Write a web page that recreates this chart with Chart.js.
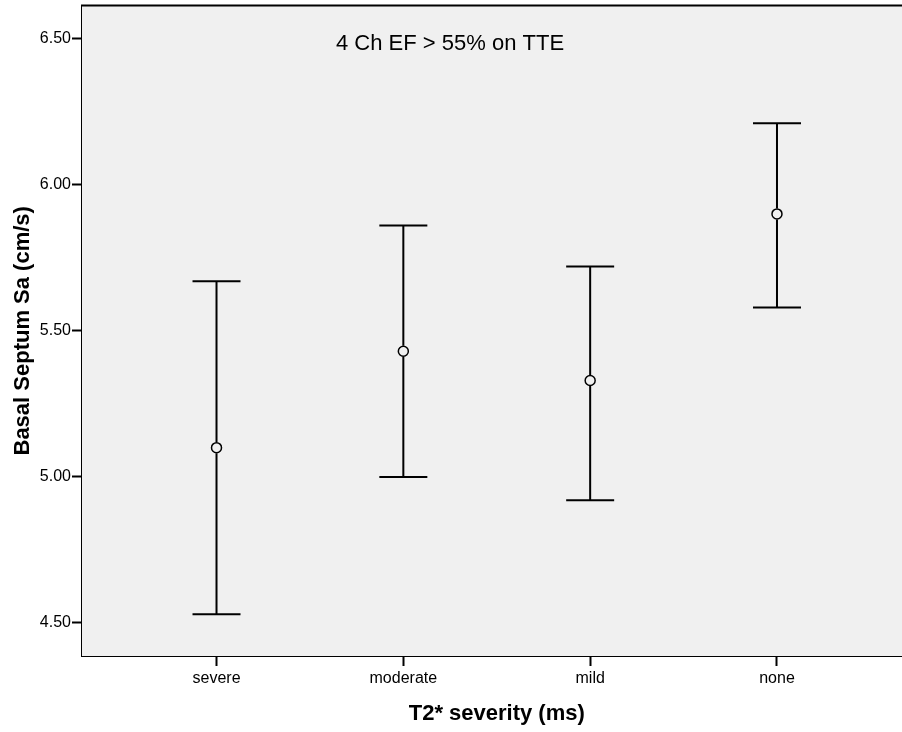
<!DOCTYPE html>
<html>
<head>
<meta charset="utf-8">
<script src="https://cdn.jsdelivr.net/npm/chart.js@4"></script>
<style>
  html, body { margin: 0; padding: 0; background: #ffffff; }
  #wrap { width: 902px; height: 732px; overflow: hidden; position: relative; }
  canvas { display: block; margin-top: -5px; }
</style>
</head>
<body>
<div id="wrap"><canvas id="c" width="918" height="737"></canvas></div>
<script>
// T2* severity groups and basal septum Sa means with 95% CI
const categories = ['severe', 'moderate', 'mild', 'none'];
const means = [5.10, 5.43, 5.33, 5.90];
const lowerCI = [4.53, 5.00, 4.92, 5.58];
const upperCI = [5.67, 5.86, 5.72, 6.21];
const yTicks = [4.50, 5.00, 5.50, 6.00, 6.50];
const chartTitle = '4 Ch EF > 55% on TTE';

const FONT = '"Liberation Sans", Arial, sans-serif';

// grey plot background and frame top line
const frame = {
  id: 'frame',
  beforeDatasetsDraw(chart) {
    const { ctx, chartArea: a } = chart;
    ctx.save();
    ctx.fillStyle = '#f0f0f0';
    ctx.fillRect(a.left, a.top, a.right - a.left, a.bottom - a.top);
    ctx.strokeStyle = '#000';
    ctx.lineWidth = 2;
    ctx.beginPath();
    ctx.moveTo(a.left - 1, a.top);
    ctx.lineTo(a.right, a.top);
    ctx.stroke();
    ctx.restore();
  }
};

// confidence interval whiskers with caps
const whiskers = {
  id: 'whiskers',
  afterDatasetsDraw(chart) {
    const { ctx, scales: { x, y } } = chart;
    ctx.save();
    ctx.strokeStyle = '#000';
    ctx.lineWidth = 2;
    const cap = 24;
    categories.forEach((_, i) => {
      const px = x.getPixelForValue(i + 1);
      const yl = y.getPixelForValue(lowerCI[i]);
      const yu = y.getPixelForValue(upperCI[i]);
      const ym = y.getPixelForValue(means[i]);
      const r = 5.5;
      ctx.beginPath();
      ctx.moveTo(px, yu); ctx.lineTo(px, ym - r);
      ctx.moveTo(px, ym + r); ctx.lineTo(px, yl);
      ctx.moveTo(px - cap, yu); ctx.lineTo(px + cap, yu);
      ctx.moveTo(px - cap, yl); ctx.lineTo(px + cap, yl);
      ctx.stroke();
    });
    ctx.restore();
  }
};

// title text inside the plot area
const innerTitle = {
  id: 'innerTitle',
  afterDraw(chart) {
    const { ctx, scales: { x, y } } = chart;
    ctx.save();
    ctx.fillStyle = '#000';
    ctx.font = '22px ' + FONT;
    ctx.textAlign = 'center';
    ctx.textBaseline = 'middle';
    ctx.fillText(chartTitle, x.getPixelForValue(2.25), y.getPixelForValue(6.483));
    ctx.restore();
  }
};

new Chart(document.getElementById('c'), {
  type: 'scatter',
  data: {
    datasets: [{
      data: means.map((m, i) => ({ x: i + 1, y: m })),
      pointStyle: 'circle',
      pointRadius: 5,
      pointHoverRadius: 5,
      pointBorderWidth: 1.5,
      pointBorderColor: '#000',
      pointBackgroundColor: 'rgba(0,0,0,0)'
    }]
  },
  options: {
    responsive: false,
    animation: false,
    layout: { padding: { top: 0, right: 0, left: 0, bottom: 0 } },
    plugins: { legend: { display: false }, tooltip: { enabled: false } },
    scales: {
      x: {
        type: 'linear',
        min: 0.28,
        max: 4.72,
        afterBuildTicks(s) { s.ticks = categories.map((_, i) => ({ value: i + 1 })); },
        afterFit(s) { s.height = 76; },
        ticks: {
          callback: (v) => categories[v - 1] ?? '',
          color: '#000',
          font: { family: FONT, size: 16 },
          padding: 3,
          maxRotation: 0,
          autoSkip: false
        },
        grid: { drawOnChartArea: false, drawTicks: true, tickLength: 10, tickColor: '#000', tickWidth: 2 },
        border: { display: true, color: '#000', width: 2 },
        title: {
          display: true,
          text: 'T2* severity (ms)',
          color: '#000',
          font: { family: FONT, size: 22, weight: 'bold' },
          padding: { top: 0, bottom: 5 }
        }
      },
      y: {
        min: 4.387,
        max: 6.613,
        afterBuildTicks(s) { s.ticks = yTicks.map(v => ({ value: v })); },
        afterFit(s) { s.width = 82; },
        ticks: {
          callback: (v) => Number(v).toFixed(2),
          color: '#000',
          font: { family: FONT, size: 16 },
          padding: 1
        },
        grid: { drawOnChartArea: false, drawTicks: true, tickLength: 10, tickColor: '#000', tickWidth: 2 },
        border: { display: true, color: '#000', width: 2 },
        title: {
          display: true,
          text: 'Basal Septum Sa (cm/s)',
          color: '#000',
          font: { family: FONT, size: 22, weight: 'bold' },
          padding: { top: 10, bottom: 0 }
        }
      }
    }
  },
  plugins: [frame, whiskers, innerTitle]
});
</script>
</body>
</html>
